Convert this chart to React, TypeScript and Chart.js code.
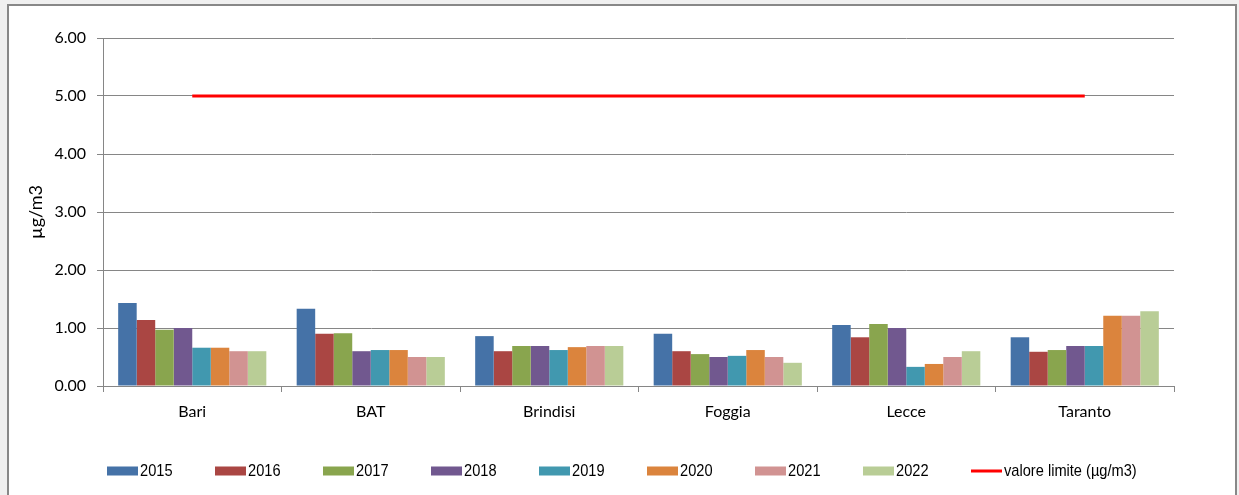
import React, { useEffect, useRef } from "react";
import { Chart, registerables } from "chart.js";

Chart.register(...registerables);

const categories = ["Bari", "BAT", "Brindisi", "Foggia", "Lecce", "Taranto"];
const years = ["2015", "2016", "2017", "2018", "2019", "2020", "2021", "2022"];
const yearColors = ["#4572A7", "#AA4643", "#89A54E", "#71588F", "#4198AF", "#DB843D", "#D19392", "#B9CD96"];

const v2015 = [1.43, 1.33, 0.86, 0.9, 1.05, 0.84];
const v2016 = [1.14, 0.9, 0.6, 0.6, 0.84, 0.59];
const v2017 = [0.97, 0.91, 0.69, 0.55, 1.07, 0.62];
const v2018 = [1.0, 0.6, 0.69, 0.5, 1.0, 0.69];
const v2019 = [0.66, 0.62, 0.62, 0.52, 0.33, 0.69];
const v2020 = [0.66, 0.62, 0.67, 0.62, 0.38, 1.21];
const v2021 = [0.6, 0.5, 0.69, 0.5, 0.5, 1.21];
const v2022 = [0.6, 0.5, 0.69, 0.4, 0.6, 1.29];
const yearValues = [v2015, v2016, v2017, v2018, v2019, v2020, v2021, v2022];

const limitLabel = "valore limite (µg/m3)";
const limitValues = [5, 5, 5, 5, 5, 5];

const yMin = 0;
const yMax = 6;
const yStep = 1;

const GRID = "#868686";
const tickFont = { family: "Lato, 'Noto Sans', sans-serif", size: 16 };

// legend styling
const LEG_BOX_W = 31;
const LEG_BOX_H = 9;
const LEG_GAP = 2;
const LEG_STRIDE = 108;
const LEG_FONT = "17px 'Liberation Sans', Arial, sans-serif";
const LEG_SX = 0.86;
const LEG_FROM_BOTTOM = 24;

export default function App() {
  const ref = useRef<HTMLCanvasElement | null>(null);

  useEffect(() => {
    if (!ref.current) return;

    const legendPlugin = {
      id: "customLegend",
      afterDraw(chart: any) {
        const ctx = chart.ctx;
        const dsets = chart.data.datasets;
        ctx.save();
        ctx.font = LEG_FONT;
        const widths = dsets.map(
          (d: any) => LEG_BOX_W + LEG_GAP + ctx.measureText(d.label).width * LEG_SX
        );
        const total = LEG_STRIDE * (dsets.length - 1) + widths[widths.length - 1];
        let x = Math.round((chart.width - total) / 2);
        const cy = chart.height - LEG_FROM_BOTTOM;
        dsets.forEach((d: any) => {
          if (d.type === "line") {
            ctx.fillStyle = d.borderColor;
            ctx.fillRect(x, cy - 1.5, LEG_BOX_W, 3);
          } else {
            ctx.fillStyle = d.backgroundColor;
            ctx.fillRect(x, cy - LEG_BOX_H / 2, LEG_BOX_W, LEG_BOX_H);
          }
          ctx.save();
          ctx.translate(x + LEG_BOX_W + LEG_GAP, cy);
          ctx.scale(LEG_SX, 1);
          ctx.fillStyle = "#000";
          ctx.textBaseline = "middle";
          ctx.textAlign = "left";
          ctx.fillText(d.label, 0, 0);
          ctx.restore();
          x += LEG_STRIDE;
        });
        ctx.restore();
      },
    };

    const datasets: any[] = years.map((y, i) => ({
      type: "bar",
      label: y,
      data: yearValues[i],
      backgroundColor: yearColors[i],
      borderWidth: 0,
      categoryPercentage: 0.83,
      barPercentage: 1.0,
    }));
    datasets.push({
      type: "line",
      label: limitLabel,
      data: limitValues,
      borderColor: "#FF0000",
      backgroundColor: "#FF0000",
      borderWidth: 3,
      pointRadius: 0,
      fill: false,
    });

    const chart = new Chart(ref.current, {
      type: "bar",
      data: { labels: categories, datasets },
      plugins: [legendPlugin],
      options: {
        animation: false,
        responsive: false,
        devicePixelRatio: 1,
        layout: { padding: { left: 0, right: 61, top: 32, bottom: 59 } },
        plugins: {
          tooltip: { enabled: false },
          legend: { display: false },
        },
        scales: {
          x: {
            offset: true,
            grid: {
              offset: true,
              drawOnChartArea: false,
              drawTicks: true,
              tickLength: 6,
              color: GRID,
            },
            border: { display: true, color: GRID },
            ticks: { color: "#000", font: tickFont, padding: 10, maxRotation: 0 },
            afterFit: (s: any) => {
              s.height = 50;
            },
          },
          y: {
            min: yMin,
            max: yMax,
            ticks: {
              stepSize: yStep,
              color: "#000",
              font: tickFont,
              padding: 11,
              callback: (v: any) => Number(v).toFixed(2),
            },
            grid: { color: GRID, drawTicks: true, tickLength: 6 },
            border: { display: true, color: GRID },
            title: {
              display: true,
              text: "µg/m3",
              color: "#000",
              font: { family: "Lato, 'Noto Sans', sans-serif", size: 18 },
              padding: { top: 16, bottom: 0 },
            },
            afterFit: (s: any) => {
              s.width = 94;
            },
          },
        },
      } as any,
    });
    return () => chart.destroy();
  }, []);

  return (
    <div style={{ position: "fixed", left: 0, top: 0, right: 0, bottom: 0, background: "#F0F0F0", overflow: "hidden" }}>
      <div
        style={{
          position: "absolute",
          left: 7,
          top: 4,
          width: 1226,
          height: 600,
          background: "#FFFFFF",
          borderLeft: "2px solid #888888",
          borderTop: "2px solid #888888",
          borderRight: "2px solid #888888",
        }}
      >
        <canvas ref={ref} width={1226} height={489} style={{ display: "block", width: 1226, height: 489 }} />
      </div>
    </div>
  );
}
